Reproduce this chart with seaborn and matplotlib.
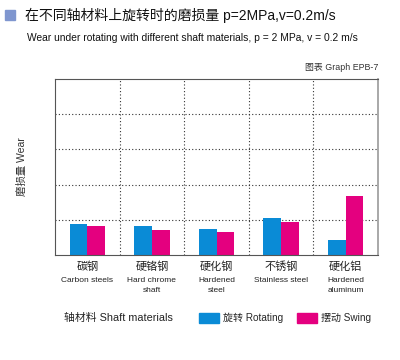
import numpy as np
import pandas as pd
import matplotlib
matplotlib.use("Agg")
import matplotlib.pyplot as plt
import seaborn as sns
from matplotlib.patches import Rectangle, Patch

# data (units = grid intervals)
materials_cn = ["碳钢", "硬铬钢", "硬化钢", "不锈钢", "硬化铝"]
materials_en = ["Carbon steels", "Hard chrome\nshaft", "Hardened\nsteel",
                "Stainless steel", "Hardened\naluminum"]
rotating = [0.89, 0.81, 0.73, 1.05, 0.43]
swing = [0.83, 0.71, 0.65, 0.95, 1.69]
series = ["旋转 Rotating", "摆动 Swing"]
colors = ["#0a8bd6", "#e4007f"]

df = pd.DataFrame({"material": materials_cn * 2,
                   "wear": rotating + swing,
                   "mode": [series[0]] * 5 + [series[1]] * 5})

sns.set_theme(style="white")
plt.rcParams['font.family'] = ['Liberation Sans', 'Noto Sans CJK SC', 'DejaVu Sans']

fig = plt.figure(figsize=(4, 3.6), dpi=100)
ax = fig.add_axes([55/400, 1 - 255/360, (378-55)/400, (255-79)/360])

sns.barplot(data=df, x="material", y="wear", hue="mode", palette=colors,
            width=0.55, gap=0, saturation=1, edgecolor="none", legend=False, ax=ax)

ax.set_ylim(0, 5)
ax.set_xlim(-0.5, 4.5)
ax.set_yticks([1, 2, 3, 4])
ax.set_yticklabels([])
ax.set_xticks(np.arange(0.5, 4, 1))
ax.set_xticklabels([])
ax.tick_params(length=0)
ax.grid(True, color="#333333", linestyle=(0, (1, 2)), linewidth=0.8)
ax.set_axisbelow(True)
ax.set_xlabel("")
ax.set_ylabel("磨损量 Wear", fontsize=7.5, color="#333333", labelpad=17)
for s in ["left", "bottom", "top"]:
    ax.spines[s].set_color("#555555")
    ax.spines[s].set_linewidth(0.8)
ax.spines["right"].set_color("#999999")
ax.spines["right"].set_linewidth(1.2)

tr = ax.get_xaxis_transform()
for i, (cn, en) in enumerate(zip(materials_cn, materials_en)):
    ax.text(i, -0.035, cn, transform=tr, ha="center", va="top", fontsize=8, color="#222222")
    ax.text(i, -0.125, en, transform=tr, ha="center", va="top", fontsize=6,
            color="#222222", linespacing=1.5)

# title block
fig.patches.append(Rectangle((5/400, 1 - 20/360), 10/400, 10/360,
                             transform=fig.transFigure, color="#7f96cf"))
fig.text(25/400, 1 - 15/360, "在不同轴材料上旋转时的磨损量 p=2MPa,v=0.2m/s",
         fontsize=10, va="center", color="#111111")
fig.text(27/400, 1 - 38/360,
         "Wear under rotating with different shaft materials, p = 2 MPa, v = 0.2 m/s",
         fontsize=7.4, va="center", color="#111111")
fig.text(378/400, 1 - 67/360, "图表 Graph EPB-7", fontsize=6.4, ha="right",
         va="center", color="#333333")

# legend row
fig.text(64/400, 1 - 318/360, "轴材料 Shaft materials", fontsize=7.8, va="center",
         color="#222222")
handles = [Patch(color=c, label=l) for c, l in zip(colors, series)]
fig.legend(handles=handles, loc="center left", bbox_to_anchor=(195/400, 1 - 318/360),
           ncol=2, frameon=False, fontsize=7.2, handlelength=2.0, handleheight=1.1,
           handletextpad=0.4, columnspacing=1.4, borderaxespad=0)

fig.savefig("out.png", dpi=100)
